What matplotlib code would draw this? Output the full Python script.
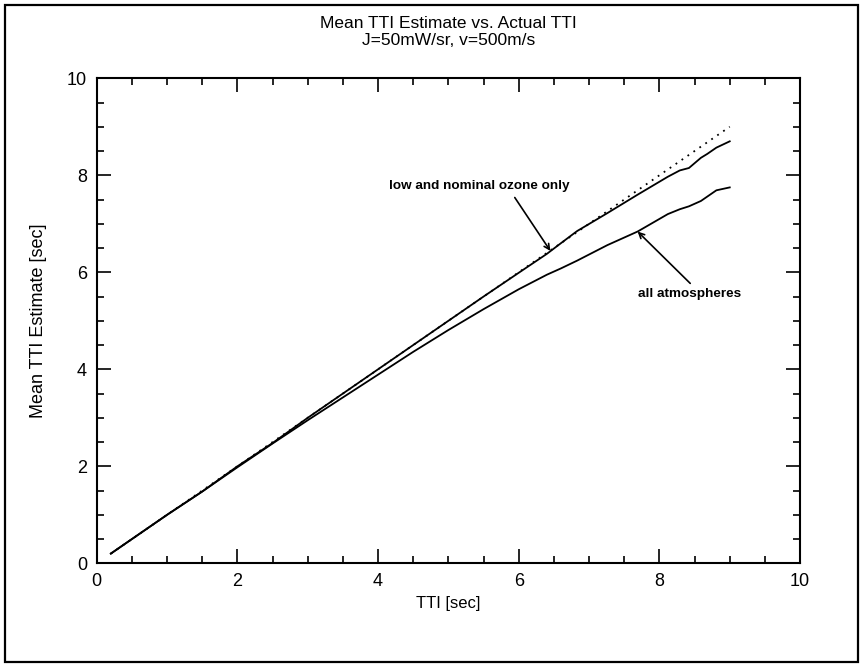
import matplotlib

matplotlib.use("Agg")
import matplotlib.pyplot as plt
from matplotlib.patches import Rectangle
from matplotlib.ticker import MultipleLocator

# actual TTI [sec]
tti = [0.2, 0.5, 1.0, 1.5, 2.0, 2.5, 3.0, 3.5, 4.0, 4.5, 5.0, 5.5, 6.0,
       6.4, 6.6, 6.83, 7.26, 7.69, 8.12, 8.29, 8.42, 8.59, 8.68, 8.81, 9.0]

# low and nominal ozone only
est_low_nominal = [0.2, 0.5, 1.0, 1.48, 2.0, 2.48, 3.0, 3.5, 4.0, 4.5, 5.0, 5.5, 5.99,
                   6.38, 6.6, 6.85, 7.22, 7.6, 7.97, 8.1, 8.15, 8.36, 8.44, 8.57, 8.7]

# all atmospheres
est_all = [0.2, 0.5, 1.0, 1.48, 1.98, 2.47, 2.95, 3.42, 3.89, 4.36, 4.81, 5.24, 5.65,
           5.95, 6.08, 6.24, 6.56, 6.84, 7.2, 7.3, 7.36, 7.47, 7.56, 7.69, 7.75]

# reference 1:1 line
ref_x = [0.2, 9.0]

sans = ["Liberation Sans", "DejaVu Sans"]

fig = plt.figure(figsize=(8.64, 6.69), dpi=100)
fig.patches.append(Rectangle((0.006, 0.01), 0.987, 0.982, transform=fig.transFigure,
                             fill=False, edgecolor="black", linewidth=1.6))
ax = fig.add_axes([0.112, 0.158, 0.814, 0.725])

ax.plot(ref_x, ref_x, color="black", linestyle=(0, (1, 3)), linewidth=1.3)
ax.plot(tti, est_low_nominal, color="black", linewidth=1.3)
ax.plot(tti, est_all, color="black", linewidth=1.3)

ax.set_xlim(0, 10)
ax.set_ylim(0, 10)
ax.xaxis.set_major_locator(MultipleLocator(2))
ax.xaxis.set_minor_locator(MultipleLocator(0.5))
ax.yaxis.set_major_locator(MultipleLocator(2))
ax.yaxis.set_minor_locator(MultipleLocator(0.5))
ax.tick_params(which="both", direction="in", top=True, right=True, width=1.2,
               labelsize=13, pad=7)
ax.tick_params(which="major", length=10)
ax.tick_params(which="minor", length=5)
for lab in ax.get_xticklabels() + ax.get_yticklabels():
    lab.set_family(sans)
for s in ax.spines.values():
    s.set_linewidth(1.5)

ax.set_xlabel("TTI [sec]", fontsize=12, labelpad=4, family=sans)
ax.set_ylabel("Mean TTI Estimate [sec]", fontsize=13, labelpad=14, family=sans)
ax.set_title("Mean TTI Estimate vs. Actual TTI\nJ=50mW/sr, v=500m/s",
             fontsize=12.5, linespacing=1.2, pad=24, family=sans)

txt = dict(fontsize=9.7, fontweight="bold", family="Liberation Sans")
ax.annotate("low and nominal ozone only", xy=(6.45, 6.44), xytext=(4.15, 7.77),
            ha="left", va="center", **txt,
            arrowprops=dict(arrowstyle="->", color="black", lw=1.2,
                            shrinkA=2, shrinkB=0, relpos=(0.68, 0.0)))
ax.annotate("all atmospheres", xy=(7.69, 6.84), xytext=(7.7, 5.55),
            ha="left", va="center", **txt,
            arrowprops=dict(arrowstyle="->", color="black", lw=1.2,
                            shrinkA=2, shrinkB=0, relpos=(0.55, 1.0)))

fig.savefig("out.png", dpi=100)
